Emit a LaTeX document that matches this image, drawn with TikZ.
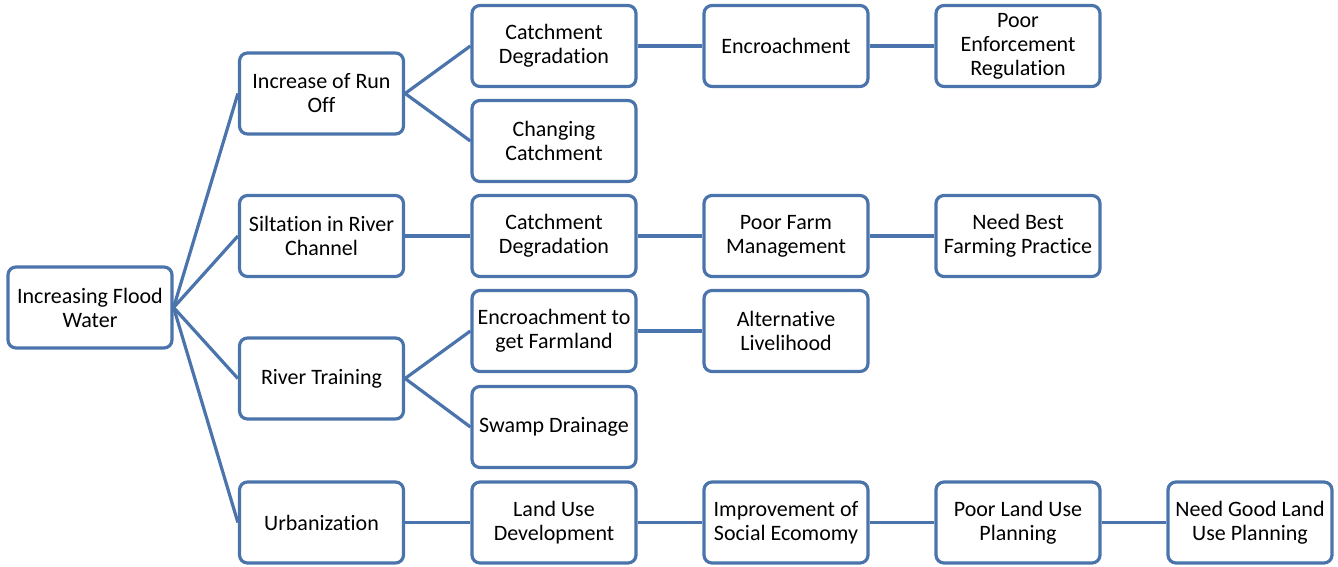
\documentclass[tikz,border=0pt]{standalone}
\usepackage{fontspec}
\setmainfont{Carlito}[Ligatures=NoCommon]
\definecolor{linkblue}{HTML}{4A74AB}
\begin{document}
\begin{tikzpicture}[x=1pt,y=-1pt,
  box/.style={draw=linkblue, line width=3.2pt, rounded corners=8pt, fill=white,
    minimum width=164pt, minimum height=81pt, align=center, inner sep=1pt,
    font=\fontsize{22pt}{24pt}\selectfont},
  link/.style={draw=linkblue, line width=3.2pt}]
\useasboundingbox (0,0) rectangle (1338,567);
% root
\node[box] (root) at (90,307.5) {Increasing Flood\\Water};
% first level causes
\node[box] (runoff) at (321.5,93.5) {Increase of Run\\Off};
\node[box] (silt) at (321.5,236) {Siltation in River\\Channel};
\node[box] (train) at (321.5,378.5) {River Training};
\node[box] (urban) at (321.5,522.5) {Urbanization};
% second level
\node[box] (cd1) at (554,46) {Catchment\\Degradation};
\node[box] (cc) at (554,141) {Changing\\Catchment};
\node[box] (cd2) at (554,236) {Catchment\\Degradation};
\node[box] (encf) at (554,331) {Encroachment to\\get Farmland};
\node[box] (swamp) at (554,427) {Swamp Drainage};
\node[box] (landdev) at (554,522.5) {Land Use\\Development};
% third level
\node[box] (enc) at (786,46) {Encroachment};
\node[box] (farm) at (786,236) {Poor Farm\\Management};
\node[box] (alt) at (786,331) {Alternative\\Livelihood};
\node[box] (social) at (786,522.5) {Improvement of\\Social Ecomomy};
% fourth level
\node[box] (enforce) at (1018,46) {Poor\\Enforcement\\Regulation};
\node[box] (best) at (1018,236) {Need Best\\Farming Practice};
\node[box] (poorplan) at (1018,522.5) {Poor Land Use\\Planning};
% fifth level
\node[box] (goodplan) at (1250,522.5) {Need Good Land\\Use Planning};
% connectors
\draw[link] (root.east) -- (runoff.west);
\draw[link] (root.east) -- (silt.west);
\draw[link] (root.east) -- (train.west);
\draw[link] (root.east) -- (urban.west);
\draw[link] (runoff.east) -- (cd1.west);
\draw[link] (runoff.east) -- (cc.west);
\draw[link] (silt.east) -- (cd2.west);
\draw[link] (train.east) -- (encf.west);
\draw[link] (train.east) -- (swamp.west);
\draw[link] (urban.east) -- (landdev.west);
\draw[link] (cd1.east) -- (enc.west);
\draw[link] (enc.east) -- (enforce.west);
\draw[link] (cd2.east) -- (farm.west);
\draw[link] (farm.east) -- (best.west);
\draw[link] (encf.east) -- (alt.west);
\draw[link] (landdev.east) -- (social.west);
\draw[link] (social.east) -- (poorplan.west);
\draw[link] (poorplan.east) -- (goodplan.west);
\end{tikzpicture}
\end{document}
